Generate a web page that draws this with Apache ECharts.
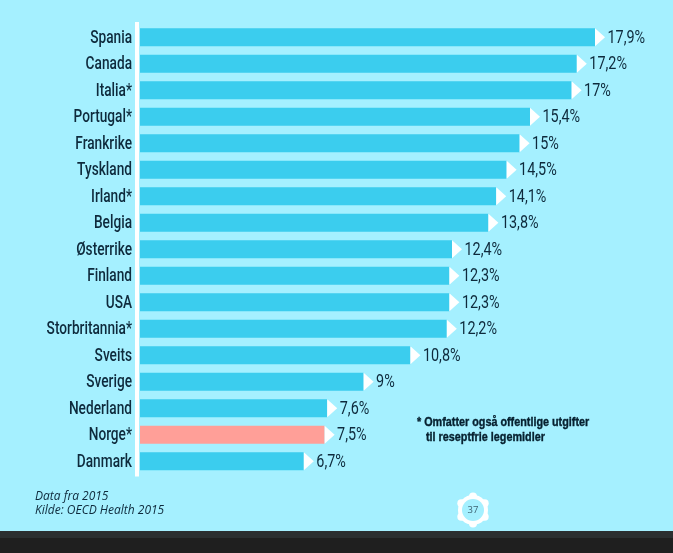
<!DOCTYPE html>
<html><head><meta charset="utf-8">
<style>html,body{margin:0;padding:0;background:#a5f0ff}#c{width:673px;height:553px}</style>
<script src="https://cdn.jsdelivr.net/npm/echarts@6/dist/echarts.min.js"></script>
</head><body><div id="c"></div>
<script>
const countries=['Spania','Canada','Italia*','Portugal*','Frankrike','Tyskland','Irland*','Belgia','Østerrike','Finland','USA','Storbritannia*','Sveits','Sverige','Nederland','Norge*','Danmark'];
const values=[17.9,17.2,17,15.4,15,14.5,14.1,13.8,12.4,12.3,12.3,12.2,10.8,9,7.6,7.5,6.7];
const valueLabels=['17,9%','17,2%','17%','15,4%','15%','14,5%','14,1%','13,8%','12,4%','12,3%','12,3%','12,2%','10,8%','9%','7,6%','7,5%','6,7%'];
const highlighted='Norge*';
const BG='#a5f0ff',BAR='#3bcdee',HI='#ff9f98',INK='#0e2a3c';
const gearBumps=[30,90,150,210,270,330];
const cx=473,cy=510;
const chart=echarts.init(document.getElementById('c'),null,{renderer:'canvas'});
chart.setOption({
  animation:false,
  backgroundColor:BG,
  grid:{left:140,top:24,width:509.6,height:450.5},
  xAxis:{type:'value',min:0.4,max:20,show:false},
  yAxis:{type:'category',data:countries,inverse:true,offset:3,
    axisLine:{show:true,lineStyle:{color:'#fff',width:4,cap:'square'}},
    axisTick:{show:false},axisLabel:{show:false}},
  series:[
    {type:'bar',barWidth:18,z:2,
      data:values.map((v,i)=>({value:v,itemStyle:{color:countries[i]===highlighted?HI:BAR}}))},
    {type:'scatter',z:3,symbol:'triangle',symbolRotate:-90,symbolSize:[18,10],symbolOffset:[5,0],
      itemStyle:{color:'#fff',opacity:1},silent:true,
      data:values.map((v,i)=>[v,i])},
    {type:'custom',z:4,silent:true,clip:false,coordinateSystem:'cartesian2d',
      encode:{x:0,y:1},
      data:values.map((v,i)=>[v,i]),
      renderItem:(params,api)=>{
        const i=api.value(1);
        const end=api.coord([api.value(0),i]);
        return {type:'group',children:[
          {type:'text',x:132,y:end[1]+1,scaleX:0.76,style:{text:countries[i],textAlign:'right',textVerticalAlign:'middle',fill:INK,font:'500 18px Roboto'}},
          {type:'text',x:end[0]+12.5,y:end[1]+1,scaleX:0.8,style:{text:valueLabels[i],textAlign:'left',textVerticalAlign:'middle',fill:INK,font:'18px Roboto'}}
        ]};
      }}
  ],
  graphic:[
    {type:'rect',shape:{x:0,y:531,width:673,height:22},style:{fill:'#1f1f1f'},silent:true},
    {type:'rect',shape:{x:0,y:531,width:673,height:7},style:{fill:'#2b2f30'},silent:true},
    {type:'text',x:35,y:491,style:{text:'Data fra 2015',fill:INK,font:'italic 12px "Open Sans"'}},
    {type:'text',x:35,y:505,style:{text:'Kilde: OECD Health 2015',fill:INK,font:'italic 12px "Open Sans"'}},
    {type:'text',x:417,y:415,scaleX:0.8,style:{text:'* Omfatter også offentlige utgifter',fill:'#06202f',stroke:'#06202f',lineWidth:0.4,font:'bold 13.5px "Liberation Sans"'}},
    {type:'text',x:426,y:430,scaleX:0.8,style:{text:'til reseptfrie legemidler',fill:'#06202f',stroke:'#06202f',lineWidth:0.4,font:'bold 13.5px "Liberation Sans"'}},
    {type:'circle',shape:{cx,cy,r:15},style:{fill:'#fff'},silent:true},
    ...gearBumps.map(a=>({type:'circle',shape:{cx:cx+13.5*Math.cos(a*Math.PI/180),cy:cy+13.5*Math.sin(a*Math.PI/180),r:4},style:{fill:'#fff'},silent:true})),
    {type:'circle',shape:{cx,cy,r:11},style:{fill:BG},silent:true},
    {type:'text',x:cx,y:cy,style:{text:'37',fill:'#3d6272',font:'9.5px "Open Sans"',textAlign:'center',textVerticalAlign:'middle'}}
  ]
});
</script></body></html>
